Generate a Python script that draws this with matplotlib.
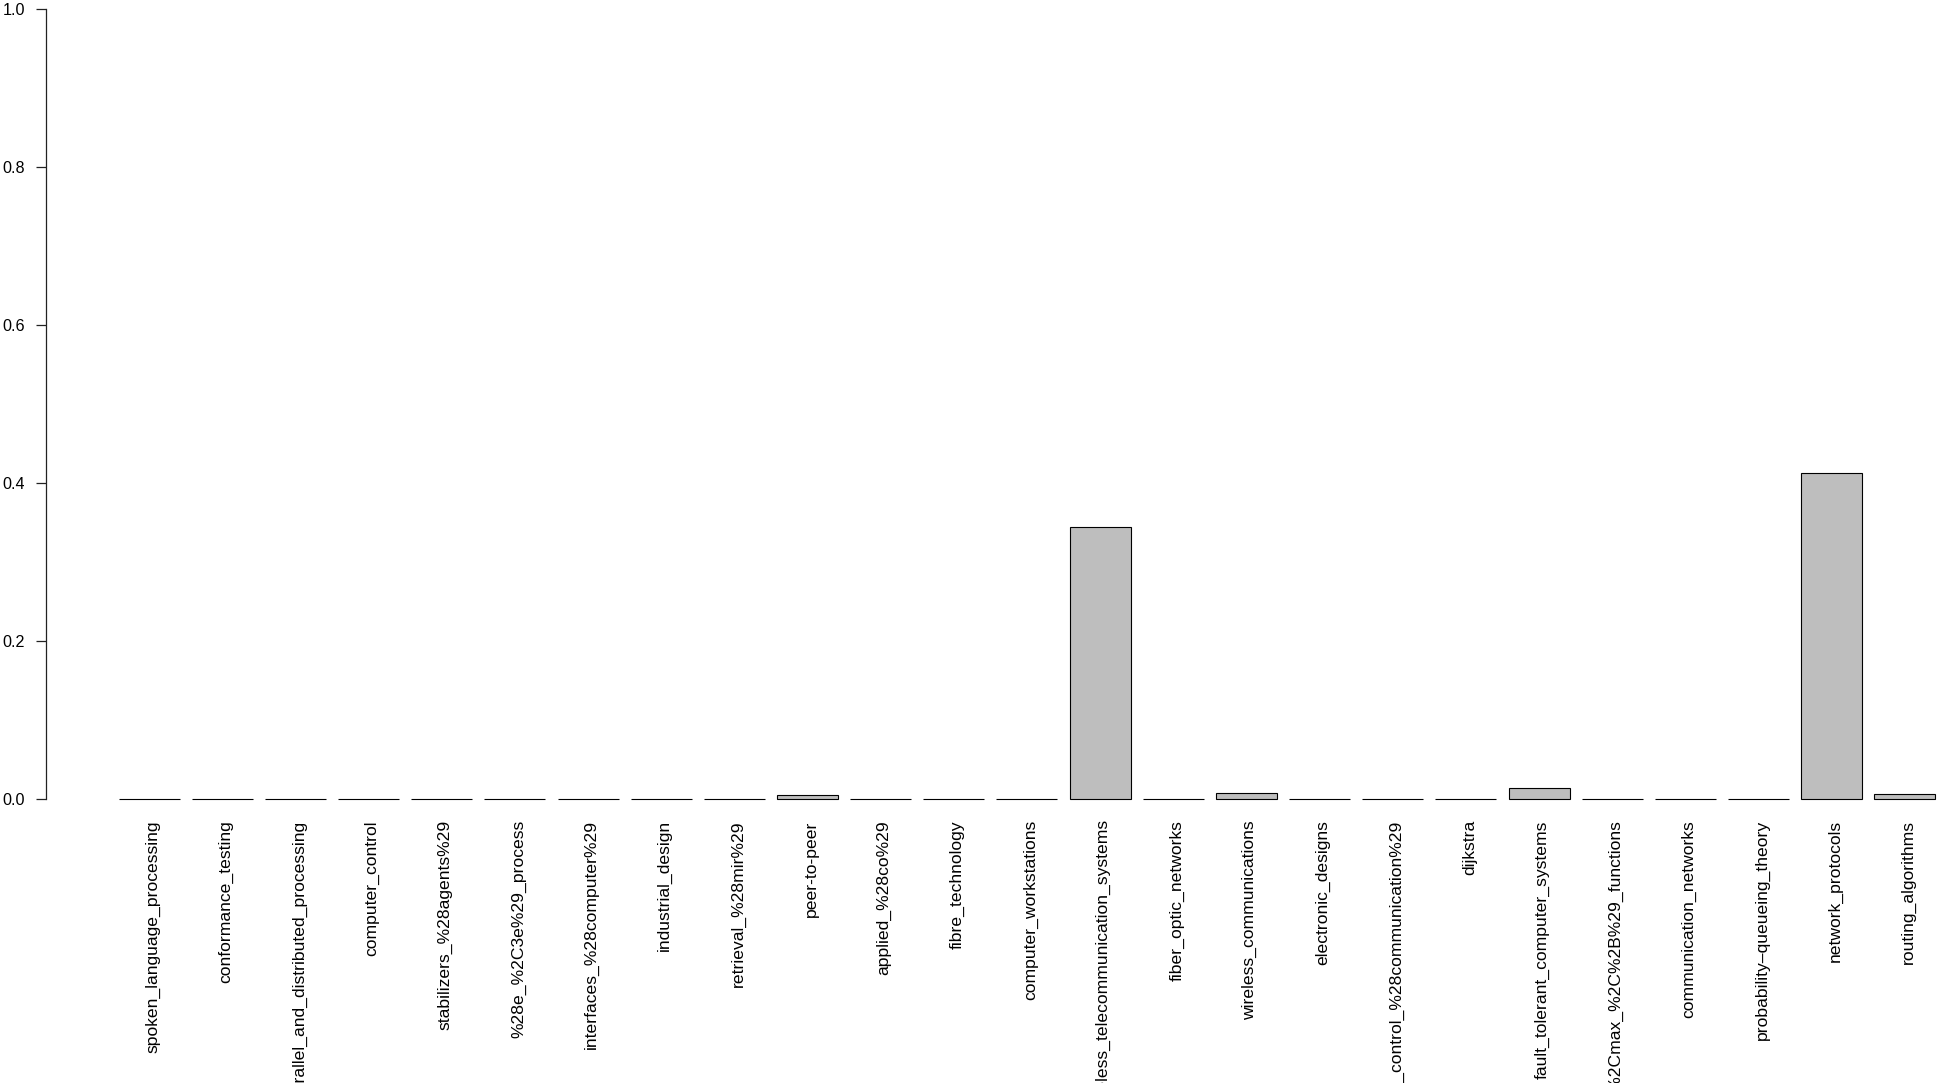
import matplotlib
matplotlib.use("Agg")
import matplotlib.pyplot as plt
import numpy as np

plt.rcParams['font.family'] = ['Liberation Sans', 'DejaVu Sans']

categories = [
    "spoken_language_processing",
    "conformance_testing",
    "parallel_and_distributed_processing",
    "computer_control",
    "stabilizers_%28agents%29",
    "%28e_%2C3e%29_process",
    "interfaces_%28computer%29",
    "industrial_design",
    "retrieval_%28mir%29",
    "peer-to-peer",
    "applied_%28co%29",
    "fibre_technology",
    "computer_workstations",
    "wireless_telecommunication_systems",
    "fiber_optic_networks",
    "wireless_communications",
    "electronic_designs",
    "error_control_%28communication%29",
    "dijkstra",
    "fault_tolerant_computer_systems",
    "%28min%2Cmax_%2C%2B%29_functions",
    "communication_networks",
    "probability\u2013queueing_theory",
    "network_protocols",
    "routing_algorithms",
]
values = [0.0, 0.0, 0.0, 0.0, 0.0, 0.0, 0.0, 0.0, 0.0, 0.006,
          0.0, 0.0, 0.0, 0.345, 0.0, 0.008, 0.0, 0.0, 0.0, 0.014,
          0.0, 0.0, 0.0, 0.413, 0.007]
yticks = [0.0, 0.2, 0.4, 0.6, 0.8, 1.0]
ytick_labels = ["0.0", "0.2", "0.4", "0.6", "0.8", "1.0"]

W, H = 1939, 1083
fig = plt.figure(figsize=(W / 100, H / 100), dpi=100)

# R barplot geometry: width 1, space 0.2
n = len(values)
lefts = 0.2 + 1.2 * np.arange(n)
centers = lefts + 0.5

px_per_unit = 60.96
axis_px = 46.0
xmin = -0.992
xmax = xmin + (W - axis_px) / px_per_unit

y0_px = 799.3        # pixel row of y=0 (from top)
ypx_per_unit = 790.6
ymin, ymax = -0.04, 1.04
bottom_px = y0_px + 0.04 * ypx_per_unit
height_px = (ymax - ymin) * ypx_per_unit

ax = fig.add_axes([axis_px / W, (H - bottom_px) / H, (W - axis_px) / W, height_px / H])
ax.bar(centers, values, width=1.0, color="#BEBEBE", edgecolor="black", linewidth=0.8)
ax.set_xlim(xmin, xmax)
ax.set_ylim(ymin, ymax)

for s in ["top", "right", "bottom"]:
    ax.spines[s].set_visible(False)
ax.spines["left"].set_bounds(0, 1)
ax.spines["left"].set_linewidth(0.9)
ax.spines["left"].set_color("#222222")

ax.set_yticks(yticks)
ax.set_yticklabels(ytick_labels)
ax.tick_params(axis="y", length=7.2, width=0.9, color="#222222", pad=8, labelsize=11.6)
ax.set_xticks([])

for c, lab in zip(centers, categories):
    ax.annotate(lab, xy=(c, 0), xytext=(2.5, -15), textcoords="offset points",
                rotation=90, ha="center", va="top", fontsize=12.6,
                annotation_clip=False)

fig.savefig("out.png", dpi=100, facecolor="white")
